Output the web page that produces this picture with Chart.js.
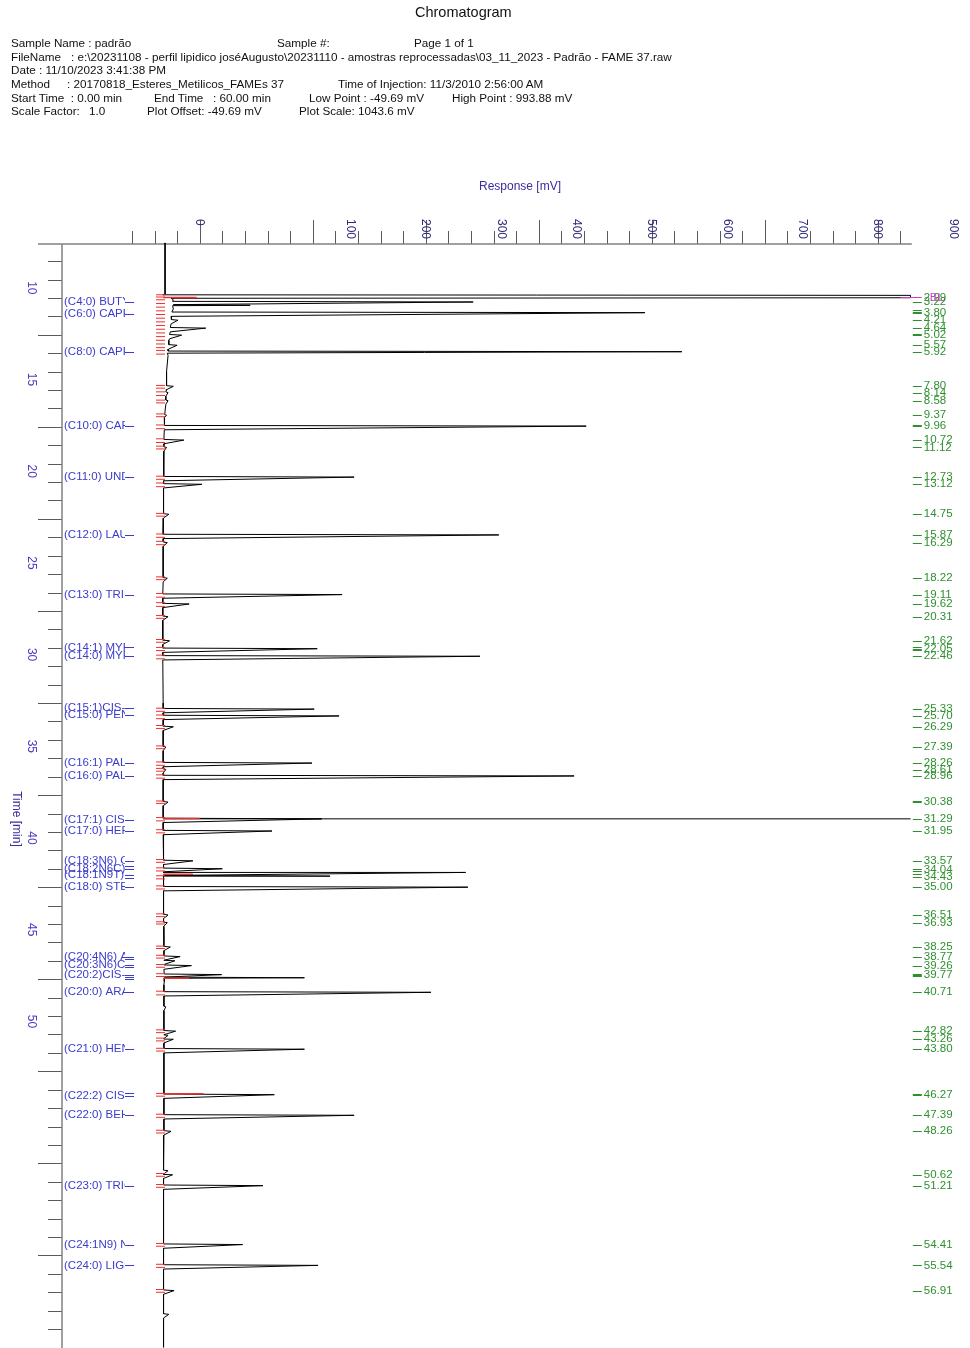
<!DOCTYPE html>
<html><head><meta charset="utf-8">
<script src="https://cdn.jsdelivr.net/npm/chart.js@4.4.1/dist/chart.umd.min.js"></script>
<style>
html,body{margin:0;padding:0;background:#fff;overflow:hidden;width:970px;height:1348px}
#wrap{position:relative;width:970px;height:1348px;overflow:hidden;background:#fff}
canvas{position:absolute;left:0;top:0}
.h{position:absolute;font-family:"Liberation Sans",Arial,sans-serif;font-size:11.7px;color:#111;white-space:pre;line-height:14px}
</style></head><body>
<div id="wrap">
<canvas id="c" width="970" height="1353"></canvas>
<div class="h" style="left:415px;top:4px;font-size:14.5px;line-height:16px">Chromatogram</div>
<div class="h" style="left:11px;top:36px">Sample Name : padrão</div>
<div class="h" style="left:277px;top:36px">Sample #:</div>
<div class="h" style="left:414px;top:36px">Page 1 of 1</div>
<div class="h" style="left:11px;top:50px">FileName</div>
<div class="h" style="left:71px;top:50px">: e:\20231108 - perfil lipidico joséAugusto\20231110 - amostras reprocessadas\03_11_2023 - Padrão - FAME 37.raw</div>
<div class="h" style="left:11px;top:63px">Date : 11/10/2023 3:41:38 PM</div>
<div class="h" style="left:11px;top:77px">Method</div>
<div class="h" style="left:67px;top:77px">: 20170818_Esteres_Metilicos_FAMEs 37</div>
<div class="h" style="left:338px;top:77px">Time of Injection: 11/3/2010 2:56:00 AM</div>
<div class="h" style="left:11px;top:91px">Start Time  : 0.00 min</div>
<div class="h" style="left:154px;top:91px">End Time   : 60.00 min</div>
<div class="h" style="left:309px;top:91px">Low Point : -49.69 mV</div>
<div class="h" style="left:452px;top:91px">High Point : 993.88 mV</div>
<div class="h" style="left:11px;top:104px">Scale Factor:</div>
<div class="h" style="left:89px;top:104px">1.0</div>
<div class="h" style="left:147px;top:104px">Plot Offset: -49.69 mV</div>
<div class="h" style="left:299px;top:104px">Plot Scale: 1043.6 mV</div>
</div>
<script>
// ---------- DATA ----------
const responseMin = -49.69;            // plot offset (mV)
const responseMax = 993.91;            // plot offset + plot scale (mV)
const timeMin = 0, timeMax = 60;       // minutes

// top axis labels as printed, and the response value where each is printed
const responseTickLabels = ['0','100','200','300','400','500','600','700','800','900'];
const responseTickLabelAt = [50, 250, 350, 450, 550, 650, 750, 850, 950, 1050];
// left axis labels as printed, and the time where each is printed
const timeTickLabels = ['10','15','20','25','30','35','40','45','50'];
const timeTickLabelAt = [2.45, 7.43, 12.41, 17.39, 22.37, 27.35, 32.33, 37.31, 42.29];

// baseline / solvent front vertices of the trace
const skeletonTimes = [0, 2.80, 2.83, 2.86, 2.99, 3.02, 3.10, 4.00, 5.30, 6.00, 7.00, 8.00, 9.50, 11.50, 15.00, 20.00, 25.00, 30.00, 35.60, 40.30, 45.00, 50.00, 55.00, 60.00];
const skeletonMv    = [4, 4, 1, 993.88, 993.88, 12, 15, 12, 9, 7, 6, 5, 3, 2.5, 1.5, 1, 1.5, 1.5, 2, 2.5, 2.5, 2, 2, 2];

// peaks: apex time (min), apex response (mV), local baseline (mV)
const peakTimes   = [3.22, 3.40, 3.80, 4.21, 4.64, 5.02, 5.57, 5.92, 7.80, 8.14, 8.58, 9.37, 9.96, 10.72, 11.12, 12.73, 13.12, 14.75, 15.87, 16.29, 18.22, 19.11, 19.62, 20.31, 21.62, 22.05, 22.46, 25.33, 25.70, 26.29, 27.39, 28.26, 28.61, 28.96, 30.38, 31.29, 31.95, 33.57, 34.00, 34.20, 34.40, 35.00, 36.51, 36.93, 38.25, 38.77, 39.00, 39.26, 39.75, 39.92, 40.71, 41.50, 42.82, 43.05, 43.26, 43.80, 46.27, 47.39, 48.26, 50.40, 50.62, 51.21, 54.41, 55.54, 56.91, 58.20];
const peakHeights = [413, 117, 641, 21, 58, 26, 20, 690, 15, 8, 8, 6, 563, 29, 6, 255, 53, 9, 447, 7, 7, 239, 36, 8, 10, 206, 422, 202, 235, 15, 5, 199, 5, 547, 8, 212, 146, 41, 80, 403, 223, 406, 8, 7, 11, 24, 17, 39, 79, 189, 357, 5, 18, 8, 15, 189, 149, 255, 12, 8, 14, 134, 107, 207, 16, 9];
const peakBases   = [14, 15, 13, 12, 11, 10, 9, 8, 6, 5, 5, 3.5, 3, 2.5, 2.5, 2, 2, 2, 1.5, 1.5, 1.5, 1, 1, 1, 1, 1, 1, 1.5, 1.5, 1.5, 1.5, 1.5, 1.5, 1.5, 1.5, 1.5, 1.5, 2, 2, 2, 2, 2, 2, 2, 2.5, 2.5, 2.5, 2.5, 3, 3, 2.5, 2.5, 2.5, 2.5, 2.5, 2.5, 2.5, 2.5, 2.5, 2, 2, 2, 2, 2, 2, 2];

// over-range line drawn at the C17:1 peak
const overRangeTime = 31.29;
const overRangeMv = [1.5, 993.88];

// red integration baseline segments: time and end response
const redLineTimes = [2.97, 31.27, 34.30, 39.95, 46.22];
const redLineEnds  = [46, 50, 41, 36, 55];

// red peak start / end markers (times)
const redMarkTimes = [2.83, 2.95, 3.10, 3.30, 3.50, 3.70, 3.90, 4.10, 4.30, 4.50, 4.70, 4.90, 5.10, 5.30, 5.50, 5.70, 5.85, 6.05, 7.75, 7.90, 8.10, 8.30, 8.55, 8.70, 9.30, 9.45, 9.90, 10.10, 10.65, 10.85, 11.05, 11.20, 12.68, 12.85, 13.05, 13.25, 14.70, 14.85, 15.82, 16.00, 16.22, 16.40, 18.15, 18.30, 19.05, 19.25, 19.55, 19.75, 20.25, 20.40, 21.55, 21.70, 21.98, 22.15, 22.40, 22.60, 25.28, 25.45, 25.65, 25.85, 26.22, 26.38, 27.33, 27.48, 28.20, 28.38, 28.55, 28.70, 28.90, 29.08, 30.32, 30.45, 31.22, 31.40, 31.88, 32.05, 33.50, 33.65, 33.95, 34.12, 34.38, 34.55, 34.93, 35.10, 36.45, 36.60, 36.88, 37.00, 38.20, 38.33, 38.70, 38.85, 39.20, 39.35, 39.70, 39.85, 40.65, 40.85, 42.75, 42.90, 43.20, 43.35, 43.75, 43.90, 46.20, 46.35, 47.33, 47.50, 48.20, 48.35, 50.55, 50.70, 51.15, 51.30, 54.35, 54.50, 55.48, 55.65, 56.85, 57.00];
const redMarkMv = -2;

// component names (left) and the times they are printed at
const nameLabels = ['(C4:0) BUTYRIC', '(C6:0) CAPROIC', '(C8:0) CAPRYLIC', '(C10:0) CAPRIC', '(C11:0) UNDECANOIC', '(C12:0) LAURIC', '(C13:0) TRIDECANOIC', '(C14:1) MYRISTOLEIC', '(C14:0) MYRISTIC', '(C15:1)CIS-10-PENTADECENOIC', '(C15:0) PENTADECANOIC', '(C16:1) PALMITOLEIC', '(C16:0) PALMITIC', '(C17:1) CIS-10-HEPTADECENOIC', '(C17:0) HEPTADECANOIC', '(C18:3N6) GAMMA-LINOLENIC', '(C18:2N6C) LINOLEIC', '(C18:1N9T) ELAIDIC', '(C18:0) STEARIC', '(C20:4N6) ARACHIDONIC', '(C20:3N6)CIS-8,11,14-EICOSATRIENOIC', '(C20:2)CIS-11,14-EICOSADIENOIC', '(C20:0) ARACHIDIC', '(C21:0) HENEICOSANOIC', '(C22:2) CIS-13,16-DOCOSADIENOIC', '(C22:0) BEHENIC', '(C23:0) TRICOSANOIC', '(C24:1N9) NERVONIC', '(C24:0) LIGNOCERIC'];
const nameTimes = [3.20, 3.88, 5.92, 9.96, 12.73, 15.87, 19.11, 21.98, 22.43, 25.27, 25.63, 28.26, 28.96, 31.33, 31.95, 33.57, 33.99, 34.32, 35.00, 38.77, 39.22, 39.78, 40.71, 43.80, 46.33, 47.39, 51.21, 54.41, 55.54];
const extraNameDashTimes = [33.84, 34.48, 38.90, 39.36, 39.90, 40.01, 46.17];

// retention times printed on the right
const rtLabels = ['2.99','3.22','3.80','4.21','4.64','5.02','5.57','5.92','7.80','8.14','8.58','9.37','9.96','10.72','11.12','12.73','13.12','14.75','15.87','16.29','18.22','19.11','19.62','20.31','21.62','22.05','22.46','25.33','25.70','26.29','27.39','28.26','28.61','28.96','30.38','31.29','31.95','33.57','34.04','34.43','35.00','36.51','36.93','38.25','38.77','39.26','39.77','40.71','42.82','43.26','43.80','46.27','47.39','48.26','50.62','51.21','54.41','55.54','56.91'];
const extraRtDashTimes = [3.68, 3.74, 4.98, 9.91, 21.98, 22.10, 30.33, 34.12, 34.30, 39.30, 39.72, 39.83, 46.22];

// ---------- BUILD ----------
const PEAK_RISE = 0.035, PEAK_FALL = 0.2;
const verts = skeletonTimes.map((t, i) => ({x: skeletonMv[i], y: t}));
peakTimes.forEach((t, i) => {
  verts.push({x: peakBases[i], y: t - PEAK_RISE});
  verts.push({x: peakHeights[i], y: t});
  verts.push({x: peakBases[i], y: t + PEAK_FALL});
});
verts.sort((a, b) => a.y - b.y);

const datasets = [
  {data: verts, showLine: true, borderColor: '#000', borderWidth: 1, pointRadius: 0, order: 1},
  {data: overRangeMv.map(v => ({x: v, y: overRangeTime})), showLine: true, borderColor: '#000', borderWidth: 1, pointRadius: 0, order: 1},
  {data: redMarkTimes.map(t => ({x: redMarkMv, y: t})), showLine: false, pointStyle: 'line', pointRadius: 4.5, borderColor: '#e8322e', borderWidth: 1, order: 0}
];
redLineTimes.forEach((t, i) => {
  datasets.push({data: [{x: 1.5, y: t}, {x: redLineEnds[i], y: t}], showLine: true, borderColor: '#e8322e', borderWidth: 1.5, pointRadius: 0, order: 0});
});

const responseTickValues = [];
for (let v = -40; v <= 990; v += 10) responseTickValues.push(v);
const timeTickValues = [];
for (let v = timeMin; v <= timeMax; v += 1) timeTickValues.push(v);

const FONT = '"Liberation Sans", Arial, sans-serif';
const decor = {
  id: 'decor',
  beforeDatasetsDraw(chart) {
    const {ctx, chartArea: a} = chart;
    const x = chart.scales.x, y = chart.scales.y;
    const axisY = 244, axisX = 62;
    ctx.save();
    ctx.lineWidth = 1;
    ctx.strokeStyle = '#5a5a5a';
    x.ticks.forEach(t => {
      const px = Math.round(x.getPixelForValue(t.value)) + 0.5;
      const major = t.value % 50 === 0;
      ctx.beginPath(); ctx.moveTo(px, axisY); ctx.lineTo(px, axisY - (major ? 24 : 13)); ctx.stroke();
    });
    y.ticks.forEach(t => {
      const py = Math.round(y.getPixelForValue(t.value)) + 0.5;
      if (py < axisY) return;
      const major = t.value % 5 === 0;
      ctx.beginPath(); ctx.moveTo(major ? 38 : 48, py); ctx.lineTo(axisX, py); ctx.stroke();
    });
    ctx.strokeStyle = '#808080'; ctx.lineWidth = 1.5;
    ctx.beginPath(); ctx.moveTo(38, axisY); ctx.lineTo(a.right + 1, axisY); ctx.stroke();
    ctx.beginPath(); ctx.moveTo(axisX, axisY); ctx.lineTo(axisX, chart.height); ctx.stroke();

    // top axis labels (rotated clockwise)
    ctx.fillStyle = '#2e2a78';
    ctx.font = '12px ' + FONT;
    ctx.textAlign = 'left'; ctx.textBaseline = 'middle';
    responseTickLabels.forEach((s, i) => {
      const px = x.getPixelForValue(responseTickLabelAt[i]);
      ctx.save(); ctx.translate(px, 219); ctx.rotate(Math.PI / 2); ctx.fillText(s, 0, 0); ctx.restore();
    });
    // left axis labels
    ctx.fillStyle = '#4a3cc0';
    ctx.textAlign = 'center';
    timeTickLabels.forEach((s, i) => {
      const py = y.getPixelForValue(timeTickLabelAt[i]);
      ctx.save(); ctx.translate(31, py); ctx.rotate(Math.PI / 2); ctx.fillText(s, 0, 0); ctx.restore();
    });
    // axis titles
    ctx.fillStyle = '#3a2d9e';
    ctx.fillText('Response [mV]', 520, 187);
    ctx.save(); ctx.translate(16, 819); ctx.rotate(Math.PI / 2); ctx.fillText('Time [min]', 0, 0); ctx.restore();
    ctx.restore();
  },
  afterDatasetsDraw(chart) {
    const {ctx, chartArea: a} = chart;
    const y = chart.scales.y;
    ctx.save();
    ctx.font = '11.5px ' + FONT;
    ctx.textBaseline = 'middle'; ctx.textAlign = 'left';
    // component names, clipped like the original
    ctx.fillStyle = '#3b3bcc'; ctx.strokeStyle = '#3b3bcc'; ctx.lineWidth = 1;
    ctx.save();
    ctx.beginPath(); ctx.rect(63, a.top, 62, chart.height - a.top); ctx.clip();
    nameLabels.forEach((s, i) => ctx.fillText(s, 64, y.getPixelForValue(nameTimes[i])));
    ctx.restore();
    nameTimes.concat(extraNameDashTimes).forEach(t => {
      const py = Math.round(y.getPixelForValue(t)) + 0.5;
      ctx.beginPath(); ctx.moveTo(125, py); ctx.lineTo(134, py); ctx.stroke();
    });
    // retention times on the right
    const rx = a.right + 2;
    ctx.fillStyle = '#2f8f2f'; ctx.strokeStyle = '#2f8f2f';
    rtLabels.forEach((s, i) => {
      const py = y.getPixelForValue(parseFloat(s));
      if (i > 0) { ctx.beginPath(); ctx.moveTo(rx, Math.round(py) + 0.5); ctx.lineTo(rx + 9, Math.round(py) + 0.5); ctx.stroke(); }
      ctx.fillText(s, rx + 11, py);
    });
    extraRtDashTimes.forEach(t => {
      const py = Math.round(y.getPixelForValue(t)) + 0.5;
      ctx.beginPath(); ctx.moveTo(rx, py); ctx.lineTo(rx + 9, py); ctx.stroke();
    });
    // baseline marker at the first retention time
    const by = y.getPixelForValue(parseFloat(rtLabels[0]));
    ctx.strokeStyle = '#d23cc8'; ctx.fillStyle = '#d23cc8';
    ctx.beginPath(); ctx.moveTo(a.right - 10, Math.round(by) - 0.5); ctx.lineTo(rx + 9, Math.round(by) - 0.5); ctx.stroke();
    ctx.fillText('BL', rx + 17, by);
    ctx.restore();
  }
};

new Chart(document.getElementById('c'), {
  type: 'scatter',
  data: {datasets},
  options: {
    responsive: false,
    animation: false,
    devicePixelRatio: 1,
    layout: {padding: {left: 124.6, right: 59.2, top: 242.7, bottom: 0.3}},
    scales: {
      x: {type: 'linear', min: responseMin, max: responseMax, display: false,
          afterBuildTicks: s => { s.ticks = responseTickValues.map(v => ({value: v})); }},
      y: {type: 'linear', min: timeMin, max: timeMax, reverse: true, display: false,
          afterBuildTicks: s => { s.ticks = timeTickValues.map(v => ({value: v})); }}
    },
    plugins: {legend: {display: false}, tooltip: {enabled: false}, title: {display: false}},
    elements: {line: {tension: 0}}
  },
  plugins: [decor]
});
</script>
</body></html>
